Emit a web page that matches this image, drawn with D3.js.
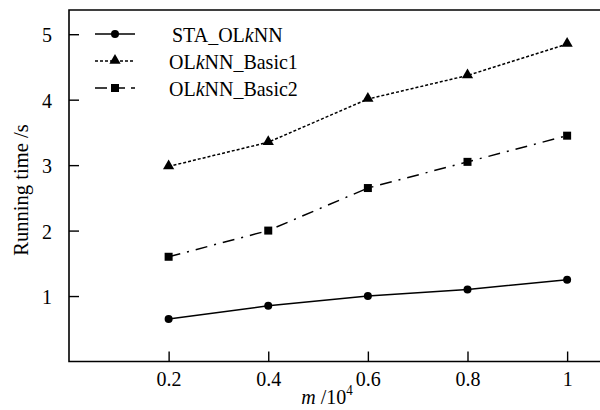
<!DOCTYPE html>
<meta charset="utf-8">
<style>
body { margin: 0; background: #fff; }
.line { fill: none; stroke: #000; stroke-width: 1.5px; }
</style>
<body>
<script src="https://d3js.org/d3.v7.min.js"></script>
<script>

// data
var xValues = [0.2, 0.4, 0.6, 0.8, 1];
var staOlknn = [0.65, 0.85, 1.0, 1.1, 1.25];
var basic1 = [2.98, 3.35, 4.01, 4.37, 4.85];
var basic2 = [1.6, 2.0, 2.65, 3.05, 3.45];
var yTicks = [1, 2, 3, 4, 5];
var xTickLabels = ["0.2", "0.4", "0.6", "0.8", "1"];

var width = 600, height = 410;
var margin = {top: 10, right: 0, bottom: 48, left: 69};
var stretch = " scale(1,1.1)";  // the original glyphs are a bit taller than wide

var svg = d3.select("body").append("svg")
    .attr("width", width)
    .attr("height", height)
    .attr("font-family", "Liberation Serif")
    .attr("font-size", 20);

var x = d3.scaleLinear().domain([0, 1.066]).range([margin.left, width - margin.right]);
var y = d3.scaleLinear().domain([0, 5.37]).range([height - margin.bottom - 0.5, margin.top]);

// frame: left, bottom, top
svg.append("path")
    .attr("d", "M" + (width) + "," + margin.top + "H" + margin.left + "V" + y(0) + "H" + width)
    .attr("fill", "none")
    .attr("stroke", "#000")
    .attr("stroke-width", 1.6);

// y axis, ticks pointing inward
var yAxis = svg.append("g")
    .attr("transform", "translate(" + margin.left + ",0)")
    .call(d3.axisRight(y).tickValues(yTicks).tickSize(10).tickFormat(d3.format("d")))
    .attr("font-family", null).attr("font-size", null);
yAxis.select(".domain").remove();
yAxis.selectAll("line").attr("stroke-width", 1.4);
yAxis.selectAll("text")
    .attr("x", 0).attr("text-anchor", "end").attr("dy", "0.35em")
    .attr("transform", "translate(-17,0)" + stretch);

// x axis, ticks pointing inward
var xAxis = svg.append("g")
    .attr("transform", "translate(0," + y(0) + ")")
    .call(d3.axisTop(x).tickValues(xValues).tickSize(10)
        .tickFormat(function(d, i) { return xTickLabels[i]; }))
    .attr("font-family", null).attr("font-size", null);
xAxis.select(".domain").remove();
xAxis.selectAll("line").attr("stroke-width", 1.4);
xAxis.selectAll("text")
    .attr("y", 0).attr("dy", "0.35em")
    .attr("transform", "translate(0,17)" + stretch);

// axis titles
svg.append("text")
    .attr("transform", "translate(28,190) rotate(-90) scale(1.03,1.1)")
    .attr("text-anchor", "middle")
    .text("Running time /s");

var xt = svg.append("text")
    .attr("transform", "translate(327,404)" + stretch)
    .attr("text-anchor", "middle");
xt.append("tspan").attr("font-style", "italic").text("m");
xt.append("tspan").text(" /10");
xt.append("tspan").attr("font-size", 13).attr("dy", -8).text("4");

var series = [
  {name: "STA_OL", values: staOlknn, dash: null, marker: "circle", lx: 172},
  {name: "OL", values: basic1, dash: "3,2", marker: "triangle", lx: 169},
  {name: "OL", values: basic2, dash: "12,7,2,7", marker: "square", lx: 169}
];
var suffix = ["NN", "NN_Basic1", "NN_Basic2"];
var legendDash = [null, "3,2", "12,6"];

var line = d3.line()
    .x(function(d, i) { return x(xValues[i]); })
    .y(function(d) { return y(d); });

function drawMarker(g, type, cx, cy) {
  if (type === "circle") {
    g.append("circle").attr("cx", cx).attr("cy", cy).attr("r", 4);
  } else if (type === "triangle") {
    g.append("path").attr("d", d3.symbol().type(d3.symbolTriangle).size(55)())
        .attr("transform", "translate(" + cx + "," + (cy - 0.5) + ")");
  } else {
    g.append("rect").attr("x", cx - 4).attr("y", cy - 4).attr("width", 8).attr("height", 8);
  }
}

series.forEach(function(s, si) {
  svg.append("path")
      .datum(s.values)
      .attr("class", "line")
      .attr("stroke-dasharray", s.dash)
      .attr("d", line);
  var mg = svg.append("g").attr("fill", "#000");
  s.values.forEach(function(v, i) { drawMarker(mg, s.marker, x(xValues[i]), y(v)); });

  // legend row
  var ly = 34 + si * 27;
  svg.append("line")
      .attr("x1", 95).attr("x2", 135).attr("y1", ly).attr("y2", ly)
      .attr("stroke", "#000").attr("stroke-width", 1.5)
      .attr("stroke-dasharray", legendDash[si]);
  drawMarker(svg.append("g").attr("fill", "#000"), s.marker, 115, ly);
  var t = svg.append("text")
      .attr("transform", "translate(" + s.lx + "," + ly + ")" + stretch)
      .attr("dy", "0.35em");
  t.append("tspan").text(s.name);
  t.append("tspan").attr("font-style", "italic").text("k");
  t.append("tspan").text(suffix[si]);
});

</script>
</body>
